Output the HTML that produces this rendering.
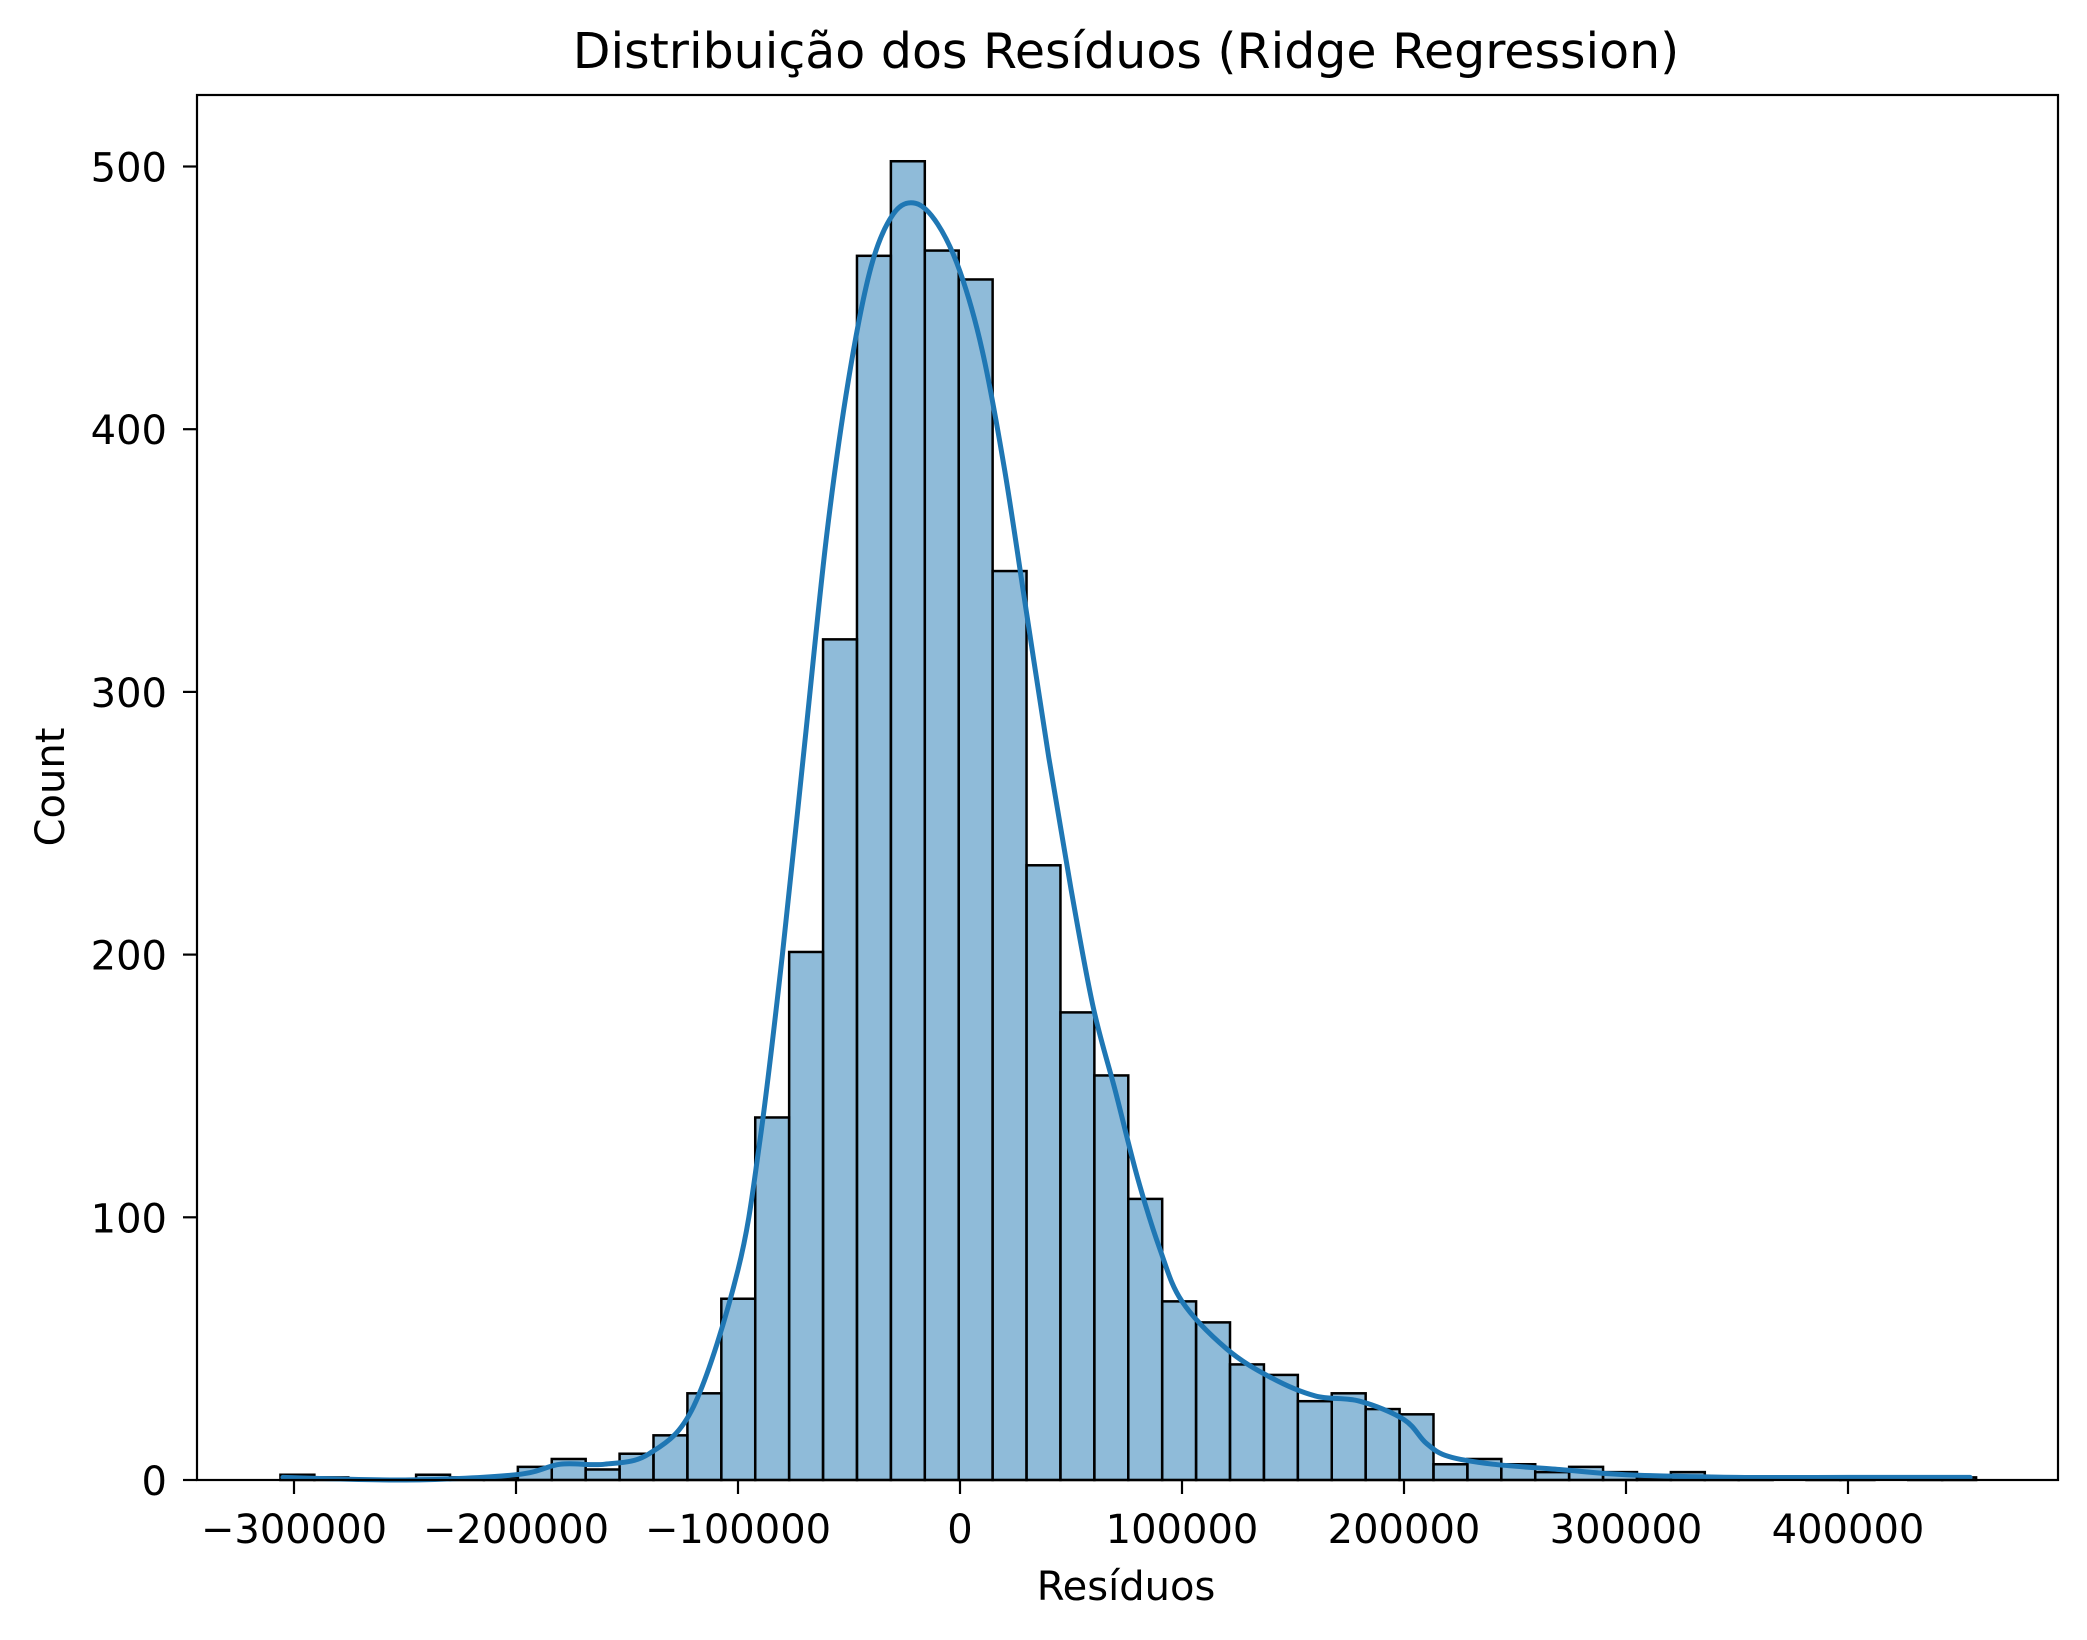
<!DOCTYPE html>
<html><head><meta charset="utf-8"><style>
html,body{margin:0;padding:0;background:#fff}
svg{display:block}
text{font-family:"DejaVu Sans","Liberation Sans",sans-serif;fill:#000}
</style></head><body>
<svg id="chart" width="2087" height="1640">
<rect width="2087" height="1640" fill="#fff"/>
<g id="bars"></g>
<path id="kde" fill="none" stroke="#1f77b4" stroke-width="5" stroke-linejoin="round" stroke-linecap="round"/>
<g id="axes"></g>
<text x="1126" y="68" font-size="49" text-anchor="middle">Distribuição dos Resíduos (Ridge Regression)</text>
<text x="1126" y="1600" font-size="40" text-anchor="middle">Resíduos</text>
<text transform="translate(64,787) rotate(-90)" font-size="40" text-anchor="middle">Count</text>
</svg>
<script>
const binStart = -306100;
const binWidth = 15276;
const counts = [2,1,0,0,2,1,1,5,8,4,10,17,33,69,138,201,320,466,502,468,457,346,234,178,154,107,68,60,44,40,30,33,27,25,6,8,6,3,5,3,1,3,1,1,0,1,1,0,1,1];
const kdeX = [-305000,-250000,-200000,-180000,-160000,-140000,-120000,-100000,-90000,-80000,-70000,-60000,-50000,-40000,-30000,-20000,-10000,0,10000,20000,30000,40000,50000,60000,70000,80000,90000,100000,120000,140000,160000,180000,200000,210000,220000,240000,270000,300000,350000,400000,455000];
const kdeY = [1,0,2,6,6,10,28,80,130,200,280,360,420,462,482,486,478,460,430,385,330,275,225,180,148,115,88,68,50,39,32,30,23,14,9,6,4,2,1,1,1];
const xTicks = [-300000,-200000,-100000,0,100000,200000,300000,400000];
const xTickLabels = ["−300000","−200000","−100000","0","100000","200000","300000","400000"];
const yTicks = [0,100,200,300,400,500];
const yTickLabels = ["0","100","200","300","400","500"];

const L=197,R=2058,T=95,B=1480;
const x = v => 960 + v/100000*222;
const y = v => B - v/100*262.7;
const NS="http://www.w3.org/2000/svg";
const bars=document.getElementById('bars');
counts.forEach((c,i)=>{
  const x0=x(binStart+i*binWidth), x1=x(binStart+(i+1)*binWidth);
  const r=document.createElementNS(NS,'rect');
  r.setAttribute('x',x0);r.setAttribute('y',y(c));
  r.setAttribute('width',x1-x0);r.setAttribute('height',B-y(c));
  r.setAttribute('fill','rgba(31,119,180,0.5)');r.setAttribute('stroke','#000');r.setAttribute('stroke-width','2.5');
  
  
  bars.appendChild(r);
});
const pts=kdeX.map((v,i)=>[x(v),y(kdeY[i])]);
let d='M'+pts[0][0].toFixed(1)+' '+pts[0][1].toFixed(1);
for(let i=0;i<pts.length-1;i++){
  const p0=pts[Math.max(0,i-1)],p1=pts[i],p2=pts[i+1],p3=pts[Math.min(pts.length-1,i+2)];
  const c1=[p1[0]+(p2[0]-p0[0])/6,p1[1]+(p2[1]-p0[1])/6];
  const c2=[p2[0]-(p3[0]-p1[0])/6,p2[1]-(p3[1]-p1[1])/6];
  d+='C'+c1[0].toFixed(1)+' '+c1[1].toFixed(1)+' '+c2[0].toFixed(1)+' '+c2[1].toFixed(1)+' '+p2[0].toFixed(1)+' '+p2[1].toFixed(1);
}
document.getElementById('kde').setAttribute('d',d);
const ax=document.getElementById('axes');
const frame=document.createElementNS(NS,'rect');
frame.setAttribute('x',L);frame.setAttribute('y',T);frame.setAttribute('width',R-L);frame.setAttribute('height',B-T);
frame.setAttribute('fill','none');frame.setAttribute('stroke','#000');frame.setAttribute('stroke-width','2.2');


ax.appendChild(frame);
xTicks.forEach((v,i)=>{
  const l=document.createElementNS(NS,'line');
  l.setAttribute('x1',x(v));l.setAttribute('x2',x(v));l.setAttribute('y1',B);l.setAttribute('y2',B+14);
  l.setAttribute('stroke','#000');l.setAttribute('stroke-width','2.2');
  
  
  ax.appendChild(l);
  const t=document.createElementNS(NS,'text');
  t.setAttribute('x',x(v));t.setAttribute('y',B+63);t.setAttribute('font-size','40');t.setAttribute('text-anchor','middle');
  t.textContent=xTickLabels[i];
  
  
  ax.appendChild(t);
});
yTicks.forEach((v,i)=>{
  const l=document.createElementNS(NS,'line');
  l.setAttribute('x1',L-14);l.setAttribute('x2',L);l.setAttribute('y1',y(v));l.setAttribute('y2',y(v));
  l.setAttribute('stroke','#000');l.setAttribute('stroke-width','2.2');
  
  
  ax.appendChild(l);
  const t=document.createElementNS(NS,'text');
  t.setAttribute('x',L-30);t.setAttribute('y',y(v)+15);t.setAttribute('font-size','40');t.setAttribute('text-anchor','end');
  t.textContent=yTickLabels[i];
  
  
  ax.appendChild(t);
});
</script>
</body></html>
